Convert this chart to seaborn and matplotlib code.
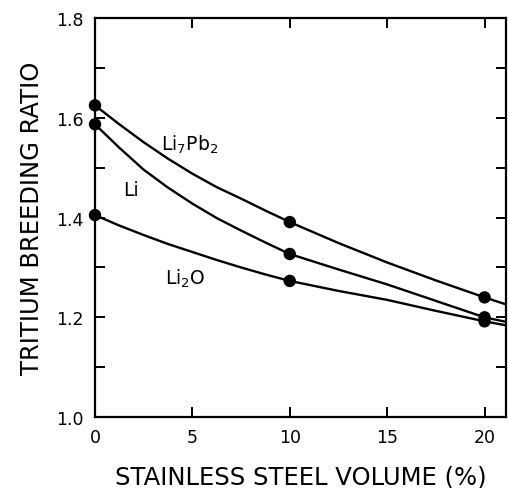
import numpy as np
import pandas as pd
import matplotlib
matplotlib.use("Agg")
import matplotlib.pyplot as plt
import seaborn as sns

# Data
steel_volume = [0, 1.25, 2.5, 3.75, 5, 6.25, 7.5, 8.75, 10, 12.5, 15, 17.5, 20, 21.1]
li7pb2 = [1.625, 1.587, 1.551, 1.518, 1.488, 1.461, 1.438, 1.414, 1.391, 1.349, 1.310, 1.274, 1.240, 1.226]
li = [1.587, 1.540, 1.496, 1.460, 1.428, 1.399, 1.374, 1.350, 1.327, 1.296, 1.266, 1.233, 1.200, 1.191]
li2o = [1.405, 1.384, 1.365, 1.347, 1.331, 1.315, 1.300, 1.286, 1.273, 1.253, 1.235, 1.213, 1.192, 1.184]
measured_x = [0, 10, 20]
series_names = ["Li7Pb2", "Li", "Li2O"]
x_ticks = [0, 5, 10, 15, 20]
y_ticks = [1.0, 1.2, 1.4, 1.6, 1.8]

sns.set_style("ticks")
plt.rcParams["font.family"] = ["DejaVu Sans"]
plt.rcParams["mathtext.default"] = "regular"
for k in ["text.color", "axes.labelcolor", "xtick.color", "ytick.color", "axes.edgecolor"]:
    plt.rcParams[k] = "black"

rows = []
for name, vals in zip(series_names, [li7pb2, li, li2o]):
    for x, y in zip(steel_volume, vals):
        rows.append({"x": x, "y": y, "series": name})
df = pd.DataFrame(rows)
pts = df[df["x"].isin(measured_x)]

fig = plt.figure(figsize=(5.08, 4.89), dpi=100)
ax = fig.add_axes([0.187, 0.145, 0.809, 0.816])

pal = {n: "black" for n in series_names}
sns.lineplot(data=df, x="x", y="y", hue="series", palette=pal, lw=1.7,
             legend=False, ax=ax, sort=True)
sns.scatterplot(data=pts, x="x", y="y", hue="series", palette=pal, s=80,
                edgecolor="black", linewidth=0, legend=False, ax=ax,
                clip_on=False, zorder=5)

ax.set_xlim(0, 21.1)
ax.set_ylim(1.0, 1.8)
ax.set_xticks(x_ticks)
ax.set_xticklabels([str(t) for t in x_ticks])
ax.set_yticks(y_ticks)
ax.set_yticklabels([f"{t:.1f}" for t in y_ticks])
ax.set_yticks(np.arange(1.1, 1.8, 0.2), minor=True)

for s in ax.spines.values():
    s.set_linewidth(1.6)
    s.set_visible(True)
    s.set_color("black")
ax.tick_params(axis="both", which="both", direction="in", top=True, right=True,
               width=1.4, labelsize=12.5, colors="black")
ax.tick_params(axis="both", which="major", length=7, pad=8)
ax.tick_params(axis="both", which="minor", length=7)

ax.set_xlabel("STAINLESS STEEL VOLUME (%)", fontsize=17.5, labelpad=13)
ax.set_ylabel("TRITIUM BREEDING RATIO", fontsize=17.5, labelpad=9)

ax.text(3.4, 1.548, r"Li$_7$Pb$_2$", fontsize=13.5, va="center", ha="left")
ax.text(1.44, 1.457, "Li", fontsize=13.5, va="center", ha="left")
ax.text(3.6, 1.279, r"Li$_2$O", fontsize=13.5, va="center", ha="left")

fig.savefig("out.png", dpi=100)
